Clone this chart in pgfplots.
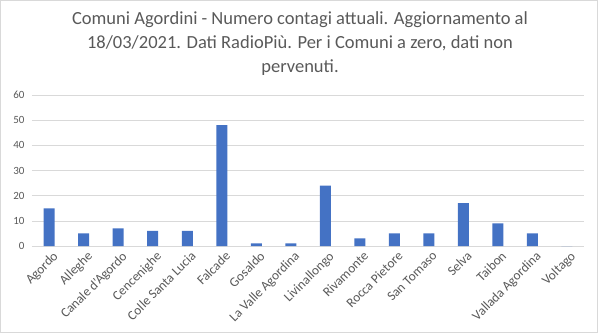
\documentclass[border=0pt]{standalone}
\usepackage{pgfplots}
\pgfplotsset{compat=1.18}
\usepackage{fontspec}
\setmainfont{Carlito}
\definecolor{barblue}{HTML}{4472C4}
\definecolor{txtgray}{HTML}{595959}
\definecolor{gridgray}{HTML}{D9D9D9}
\begin{document}
\begin{tikzpicture}
\useasboundingbox (0,0) rectangle (598pt,333pt);
\draw[gridgray] (0.5pt,0.5pt) rectangle (597.5pt,332.5pt);
\node[align=center, text=txtgray, font=\fontsize{18.5}{24}\selectfont] at (300pt,289pt)
 {Comuni Agordini - Numero contagi attuali. Aggiornamento al\\18/03/2021. Dati RadioPiù. Per i Comuni a zero, dati non\\pervenuti.};
\begin{axis}[
  at={(32pt,87pt)}, anchor=south west,
  scale only axis, width=552pt, height=151pt,
  xmin=-0.5, xmax=15.5, ymin=0, ymax=60,
  ytick={0,10,...,60},
  xtick={0,...,15},
  xticklabels={Agordo,Alleghe,Canale d'Agordo,Cencenighe,Colle Santa Lucia,Falcade,Gosaldo,La Valle Agordina,Livinallongo,Rivamonte,Rocca Pietore,San Tomaso,Selva,Taibon,Vallada Agordina,Voltago},
  x tick label style={rotate=45, anchor=north east, font=\fontsize{13.3}{15}\selectfont, text=txtgray, inner sep=1pt, xshift=0pt, yshift=-4pt},
  y tick label style={font=\fontsize{11}{12}\selectfont, text=txtgray, xshift=-4pt},
  /pgf/number format/assume math mode=true,
  axis x line*=bottom, axis y line*=left,
  x axis line style={gridgray, -},
  y axis line style={draw=none},
  major tick length=0pt,
  ymajorgrids, grid style={gridgray},
  ybar, bar width=11pt,
]
\addplot[fill=barblue, draw=none] coordinates {(0,15) (1,5) (2,7) (3,6) (4,6) (5,48) (6,1) (7,1) (8,24) (9,3) (10,5) (11,5) (12,17) (13,9) (14,5) (15,0)};
\end{axis}
\end{tikzpicture}
\end{document}
